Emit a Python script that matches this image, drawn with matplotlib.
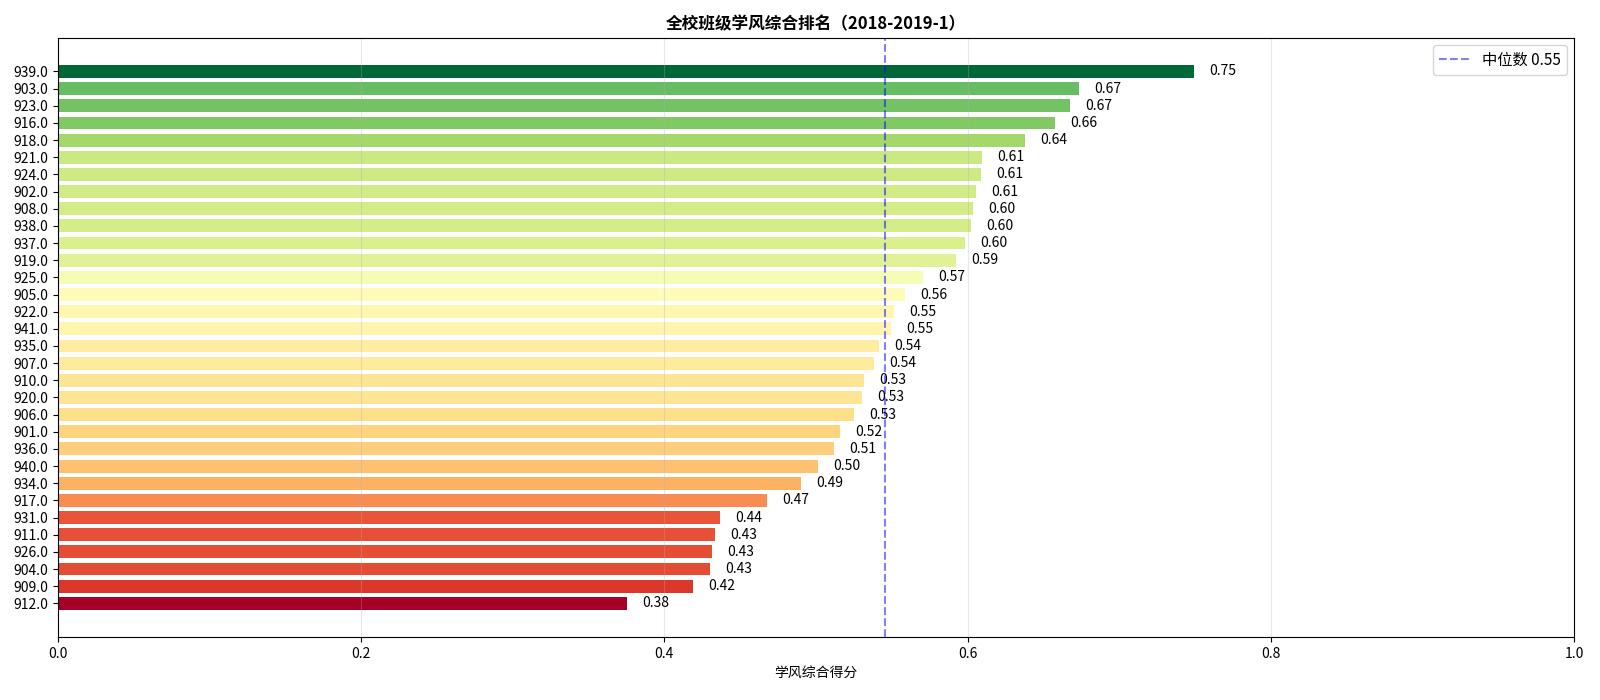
import numpy as np
import matplotlib.pyplot as plt
from matplotlib import cm, colors

plt.rcParams['font.family'] = ['Noto Sans CJK SC', 'DejaVu Sans']
plt.rcParams['axes.unicode_minus'] = False

# 班级编号 与 学风综合得分（从高到低）
classes = [939, 903, 923, 916, 918, 921, 924, 902, 908, 938, 937, 919, 925, 905, 922, 941,
           935, 907, 910, 920, 906, 901, 936, 940, 934, 917, 931, 911, 926, 904, 909, 912]
scores = [0.7495, 0.6737, 0.6675, 0.6577, 0.6379, 0.6096, 0.6089, 0.6056, 0.6036, 0.6023,
          0.5984, 0.5924, 0.5707, 0.5588, 0.5516, 0.5495, 0.5415, 0.5384, 0.5318, 0.5305,
          0.5252, 0.5160, 0.5120, 0.5015, 0.4903, 0.4679, 0.4369, 0.4336, 0.4316, 0.4303,
          0.4191, 0.3756]

# 画图时从下往上，所以倒序
cls = [str(float(c)) for c in classes][::-1]
val = np.array(scores[::-1])
med = np.median(val)

norm = colors.Normalize(vmin=val.min(), vmax=val.max())
bar_colors = cm.RdYlGn(norm(val))

fig, ax = plt.subplots(figsize=(16, 7), dpi=100)
fig.subplots_adjust(left=0.036, right=0.984, top=0.946, bottom=0.09)

ypos = np.arange(len(cls))
ax.barh(ypos, val, height=0.75, color=bar_colors)
for y, v in zip(ypos, val):
    ax.text(v + 0.01, y, '%.2f' % v, va='center', ha='left', fontsize=10)

ax.axvline(med, color='blue', alpha=0.5, linestyle='--', label='中位数 %.2f' % med)
ax.set_yticks(ypos)
ax.set_yticklabels(cls)
ax.set_xlim(0, 1)
ax.grid(axis='x', alpha=0.3)
ax.set_xlabel('学风综合得分')
ax.set_title('全校班级学风综合排名（2018-2019-1）', fontweight='bold')
ax.legend(loc='upper right', fontsize=11)

plt.savefig('out.png')
